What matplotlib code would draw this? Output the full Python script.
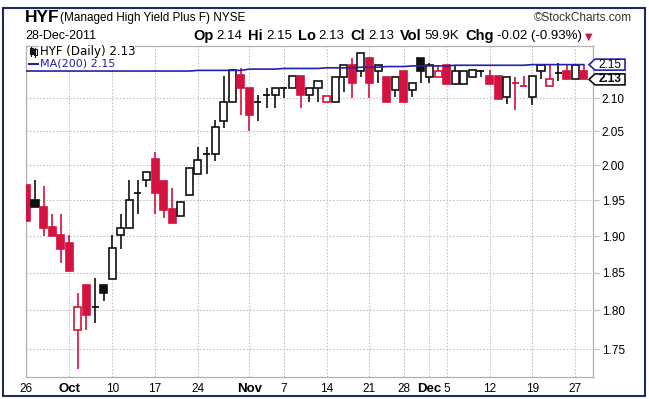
import matplotlib
matplotlib.use("Agg")
import matplotlib.pyplot as plt
from matplotlib.patches import Rectangle, Polygon
from matplotlib.lines import Line2D
from matplotlib.ticker import FixedLocator, FixedFormatter, NullLocator

# figure size in pixels
W, H = 649, 399

# daily OHLC, Sep 26 - Dec 28 2011
prior_close = 1.975
opens = [1.972, 1.951, 1.941, 1.912, 1.901, 1.891, 1.775, 1.834, 1.804, 1.833,
         1.842, 1.901, 1.911, 1.960, 1.979, 2.009, 1.977, 1.938, 1.928, 1.958,
         1.987, 2.016, 2.016, 2.065, 2.095, 2.136, 2.115, 2.094, 2.104, 2.105,
         2.115, 2.116, 2.135, 2.105, 2.115, 2.095, 2.094, 2.133, 2.151, 2.142,
         2.162, 2.142, 2.133, 2.113, 2.142, 2.113, 2.162, 2.132, 2.133, 2.151,
         2.122, 2.122, 2.133, 2.142, 2.134, 2.134, 2.102, 2.124, 2.119, 2.102,
         2.142, 2.119, 2.139, 2.142, 2.129, 2.142]
highs = [1.972, 1.979, 1.970, 1.931, 1.931, 1.901, 1.823, 1.834, 1.843, 1.834,
         1.901, 1.931, 1.979, 1.979, 1.990, 2.019, 1.977, 1.968, 1.948, 1.997,
         2.027, 2.027, 2.067, 2.134, 2.144, 2.146, 2.115, 2.105, 2.115, 2.115,
         2.116, 2.135, 2.135, 2.115, 2.126, 2.104, 2.133, 2.151, 2.162, 2.171,
         2.162, 2.151, 2.133, 2.132, 2.142, 2.123, 2.162, 2.155, 2.151, 2.151,
         2.151, 2.142, 2.143, 2.143, 2.143, 2.134, 2.133, 2.133, 2.134, 2.134,
         2.151, 2.151, 2.154, 2.151, 2.151, 2.151]
lows = [1.921, 1.940, 1.900, 1.900, 1.863, 1.852, 1.725, 1.775, 1.784, 1.813,
        1.842, 1.882, 1.911, 1.930, 1.969, 1.930, 1.925, 1.918, 1.928, 1.958,
        1.987, 1.987, 2.006, 2.055, 2.095, 2.075, 2.050, 2.066, 2.085, 2.085,
        2.100, 2.116, 2.085, 2.095, 2.095, 2.095, 2.094, 2.110, 2.101, 2.132,
        2.101, 2.123, 2.094, 2.102, 2.094, 2.102, 2.123, 2.123, 2.133, 2.122,
        2.122, 2.122, 2.133, 2.133, 2.122, 2.099, 2.092, 2.082, 2.119, 2.090,
        2.130, 2.119, 2.126, 2.129, 2.129, 2.129]
closes = [1.921, 1.940, 1.911, 1.900, 1.882, 1.852, 1.804, 1.794, 1.805, 1.823,
          1.883, 1.911, 1.951, 1.961, 1.990, 1.960, 1.936, 1.918, 1.948, 1.997,
          2.008, 2.0165, 2.056, 2.095, 2.144, 2.115, 2.075, 2.095, 2.105, 2.115,
          2.116, 2.135, 2.105, 2.115, 2.126, 2.104, 2.133, 2.151, 2.123, 2.171,
          2.123, 2.151, 2.094, 2.132, 2.094, 2.123, 2.142, 2.151, 2.142, 2.122,
          2.142, 2.142, 2.143, 2.143, 2.122, 2.099, 2.133, 2.124, 2.119, 2.134,
          2.151, 2.129, 2.140, 2.129, 2.151, 2.129]
ma200 = [2.142, 2.142, 2.142, 2.142, 2.142, 2.142, 2.142, 2.142, 2.142, 2.142,
         2.142, 2.142, 2.142, 2.142, 2.142, 2.142, 2.142, 2.142, 2.142, 2.142,
         2.143, 2.143, 2.143, 2.143, 2.143, 2.143, 2.145, 2.145, 2.145, 2.145,
         2.146, 2.146, 2.146, 2.146, 2.146, 2.147, 2.147, 2.147, 2.147, 2.148,
         2.148, 2.148, 2.149, 2.149, 2.149, 2.150, 2.150, 2.150, 2.150, 2.150,
         2.151, 2.151, 2.151, 2.151, 2.151, 2.151, 2.151, 2.151, 2.151, 2.152,
         2.152, 2.152, 2.152, 2.152, 2.152, 2.152]

date_idx = [0, 5, 10, 15, 20, 26, 30, 35, 40, 44, 47, 49, 54, 59, 64]
date_labels = ["26", "Oct", "10", "17", "24", "Nov", "7", "14", "21", "28",
               "Dec", "5", "12", "19", "27"]
months = ["Oct", "Nov", "Dec"]
price_ticks = [1.75, 1.80, 1.85, 1.90, 1.95, 2.00, 2.05, 2.10]

RED = "#d31240"
BLACK = "#111111"
BLUE = "#2222a8"
NAVY = "#1c2a6c"
GRID = "#c2c2c2"
FONT = "Liberation Sans"


def fx(px):
    return px / W


def fy(py):
    return 1 - py / H


fig = plt.figure(figsize=(W / 100, H / 100), dpi=100)
ax = fig.add_axes([fx(26), fy(377), (593.3 - 26) / W, (377 - 46) / H])

# candles
body_w = 0.82
for i in range(len(closes)):
    o, h, l, c = opens[i], highs[i], lows[i], closes[i]
    prev = prior_close if i == 0 else closes[i - 1]
    col = RED if c < prev else BLACK
    ax.vlines(i, l, h, color=col, lw=1.2, zorder=2)
    if abs(c - o) < 0.0015:
        ax.hlines((o + c) / 2, i - body_w / 2, i + body_w / 2, color=col, lw=1.3, zorder=3)
    else:
        face = col if c < o else "white"
        ax.add_patch(Rectangle((i - body_w / 2, min(o, c)), body_w, abs(c - o),
                               facecolor=face, edgecolor=col, lw=1.2, zorder=3))

ax.plot(range(len(ma200)), ma200, color=BLUE, lw=1.2, zorder=4)

ax.set_yscale("log")
ax.set_ylim(1.7151, 2.1813)
ax.set_xlim(-0.05, 66.1)

ax.yaxis.set_major_locator(FixedLocator(price_ticks))
ax.yaxis.set_major_formatter(FixedFormatter(["%.2f" % p for p in price_ticks]))
ax.yaxis.set_minor_locator(NullLocator())
ax.yaxis.tick_right()
ax.tick_params(axis="y", length=4, color=GRID, pad=2, labelsize=8.5)
for t in ax.get_yticklabels():
    t.set_family(FONT)

ax.set_xticks(date_idx)
ax.set_xticklabels(date_labels)
ax.tick_params(axis="x", length=0, pad=4, labelsize=8.5)
for t in ax.get_xticklabels():
    t.set_family(FONT)
    if t.get_text() in months:
        t.set_fontweight("bold")
        t.set_fontsize(9.5)

ax.grid(True, color=GRID, lw=0.8, linestyle=(0, (1.5, 1.5)), zorder=0)
for s in ax.spines.values():
    s.set_color("#b0b0b0")
    s.set_linewidth(0.9)

# legend inside the plot
fig.text(fx(39.5), fy(51), "HYF (Daily) %.2f" % closes[-1], fontsize=8.5,
         family="DejaVu Sans", va="center", ha="left",
         bbox=dict(facecolor="white", edgecolor="none", pad=0.3), zorder=5)
fig.text(fx(40), fy(64), "MA(200) %.2f" % ma200[-1], fontsize=8, color=BLUE,
         family="DejaVu Sans", va="center", ha="left",
         bbox=dict(facecolor="white", edgecolor="none", pad=0.5), zorder=5)
fig.lines.append(Line2D([fx(29), fx(38)], [fy(64), fy(64)], color=BLUE, lw=1.5,
                        transform=fig.transFigure))
# tiny candle icon
fig.patches.append(Rectangle((fx(30), fy(54)), fx(2.5), 6 / H, facecolor=BLACK,
                             edgecolor=BLACK, lw=0.8, transform=fig.transFigure))
fig.patches.append(Rectangle((fx(34), fy(55)), fx(2.5), 6 / H, facecolor="white",
                             edgecolor=BLACK, lw=0.8, transform=fig.transFigure))
fig.lines.append(Line2D([fx(31.2), fx(31.2)], [fy(46.5), fy(56)], color=BLACK, lw=0.8,
                        transform=fig.transFigure))
fig.lines.append(Line2D([fx(35.2), fx(35.2)], [fy(47.5), fy(56.5)], color=BLACK, lw=0.8,
                        transform=fig.transFigure))

# price tags on the right
fig.canvas.draw()


def price_to_py(p):
    return H - ax.transData.transform((0, p))[1]


def tag(py, text, edge, weight):
    pts = [(589, py), (595, py - 5.5), (625, py - 5.5), (625, py + 5.5), (595, py + 5.5)]
    fig.patches.append(Polygon([(fx(a), fy(b)) for a, b in pts], closed=True,
                               facecolor="white", edgecolor=edge, lw=1.2,
                               transform=fig.transFigure))
    fig.text(fx(610), fy(py), text, ha="center", va="center", fontsize=8.5,
             family=FONT, fontweight=weight)


tag(price_to_py(ma200[-1]), "%.2f" % ma200[-1], BLUE, "normal")
tag(price_to_py(closes[-1]), "%.2f" % closes[-1], BLACK, "bold")

# header
fig.text(fx(25), fy(17), "HYF", fontsize=12.5, fontweight="bold", family=FONT,
         va="center", ha="left")
fig.text(fx(60), fy(18), "(Managed High Yield Plus F) NYSE", fontsize=8.5,
         family=FONT, va="center", ha="left")
fig.text(fx(632), fy(18), "\u00a9StockCharts.com", fontsize=8.5, family=FONT,
         va="center", ha="right", color="#333333")
fig.text(fx(25), fy(36), "28-Dec-2011", fontsize=9, family=FONT, va="center", ha="left")

renderer = fig.canvas.get_renderer()
pieces = [("Op", True), ("2.14", False), ("Hi", True), ("2.15", False),
          ("Lo", True), ("2.13", False), ("Cl", True), ("2.13", False),
          ("Vol", True), ("59.9K", False), ("Chg", True), ("-0.02 (-0.93%)", False)]
x = 193
for txt, bold in pieces:
    t = fig.text(fx(x), fy(36), txt, fontsize=10.5 if bold else 9.5,
                 fontweight="bold" if bold else "normal", family=FONT,
                 va="center", ha="left")
    w = t.get_window_extent(renderer).width
    x += w + (3 if bold else 6)
fig.text(fx(x - 3), fy(37), "\u25bc", fontsize=7, color=RED, family="DejaVu Sans",
         va="center", ha="left")

# outer frame
fig.patches.append(Rectangle((fx(3), fy(396)), (645 - 3) / W, (396 - 8) / H,
                             fill=False, edgecolor=NAVY, lw=1.5,
                             transform=fig.transFigure))

fig.savefig("out.png", dpi=100)
